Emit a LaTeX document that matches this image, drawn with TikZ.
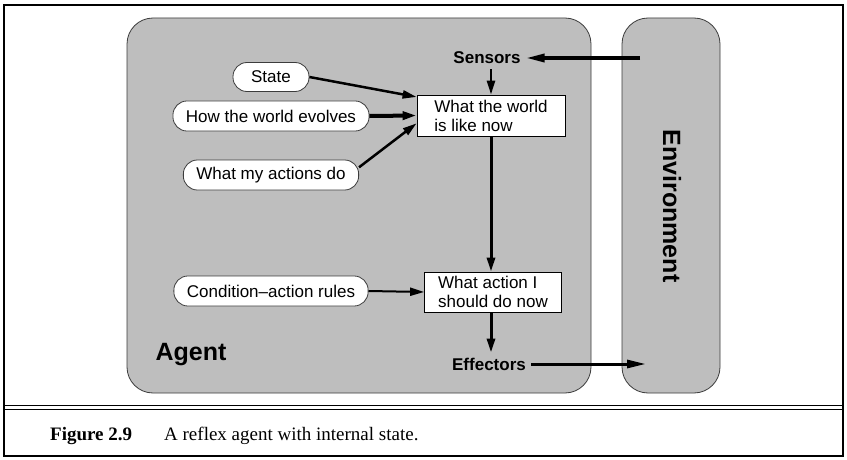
\documentclass[tikz,border=0pt]{standalone}
\usepackage{fontspec}
\setmainfont{Liberation Sans}
\newfontfamily\captionfont{Liberation Serif}
\usepackage{xcolor}
\usetikzlibrary{positioning,arrows.meta}
\definecolor{agentgray}{RGB}{190,190,190}
\definecolor{edgegray}{RGB}{60,60,60}
\tikzset{
region/.style={
draw=edgegray,
fill=agentgray,
line width=0.8pt
},
knowledge/.style={
draw=edgegray,
fill=white,
rounded corners=14pt,
minimum height=29pt,
inner xsep=13pt,
line width=0.8pt,
font=\fontsize{17}{19}\selectfont
},
statebox/.style={
draw,
fill=white,
line width=0.8pt,
align=left,
font=\fontsize{17}{19}\selectfont
},
port/.style={
inner sep=5pt,
font=\fontsize{17}{19}\selectfont\bfseries
},
arrow/.style={
-{Triangle[length=14pt,width=8pt]},
line width=2.5pt
},
longarrow/.style={
-{Triangle[length=19pt,width=8pt]},
line width=3pt
}
}
\begin{document}
\begin{tikzpicture}[x=1pt,y=-1pt]
\useasboundingbox (0,0) rectangle (847,460);
\fill[white] (0,0) rectangle (847,460);
% frame and caption rule
\draw[line width=1.2pt] (4,5) rectangle (843,456);
\draw[line width=1pt] (4,405) -- (843,405);
\draw[line width=1pt] (4,409) -- (843,409);

% agent and environment
\draw[region,rounded corners=26pt] (127,18) rectangle (591,393);
\draw[region,rounded corners=26pt] (622,18) rectangle (720,393);
\node[font=\fontsize{25}{28}\selectfont\bfseries] (agent) at (191,355) {Agent};
\node[font=\fontsize{25}{28}\selectfont\bfseries,rotate=-90] (env) at (672,206) {Environment};

\node[port] (sensors) at (487,58) {Sensors};
\node[port] (effectors) at (489,364) {Effectors};
\coordinate (envin) at (640,58);
\coordinate (envout) at (646,364);

\node[statebox,minimum width=148pt,minimum height=41pt](world) at (491,115.5) {What the world\\is like now};
\node[statebox,minimum width=137pt,minimum height=40pt](action) at (493,292) {What action I\\should do now};

\node[knowledge,minimum width=76pt](state) at (271,77) {State};
\node[knowledge,minimum height=30pt](evolves) at (271,116) {How the world evolves};
\node[knowledge,minimum height=30pt](effects) at (271,175) {What my actions do};
\node[knowledge,minimum height=30pt](rules) at (271,291) {Condition--action rules};

\draw[longarrow,line width=3.5pt](envin)--(sensors.east);
\draw[arrow](world.north |- sensors.south)--(world.north);
\draw[arrow](state.east)--(world.166);
\draw[arrow,line width=4pt](evolves.east)--(world.west);
\draw[arrow](effects.5)--(world.186);
\draw[arrow,line width=3pt](world.south)--(world.south |- action.north);
\draw[arrow,line width=2pt](rules.east)--(action.west);
\draw[arrow,line width=3pt](world.south |- action.south)--(world.south |- effectors.north);
\draw[longarrow](effectors.east)--(envout);

% caption
\node[anchor=base west,inner sep=0pt,font=\captionfont\fontsize{19}{22}\selectfont\bfseries] (fig) at (50,440) {Figure 2.9};
\node[anchor=base west,inner sep=0pt,font=\captionfont\fontsize{19}{22}\selectfont] (cap) at (164,440) {A reflex agent with internal state.};
\end{tikzpicture}
\end{document}
